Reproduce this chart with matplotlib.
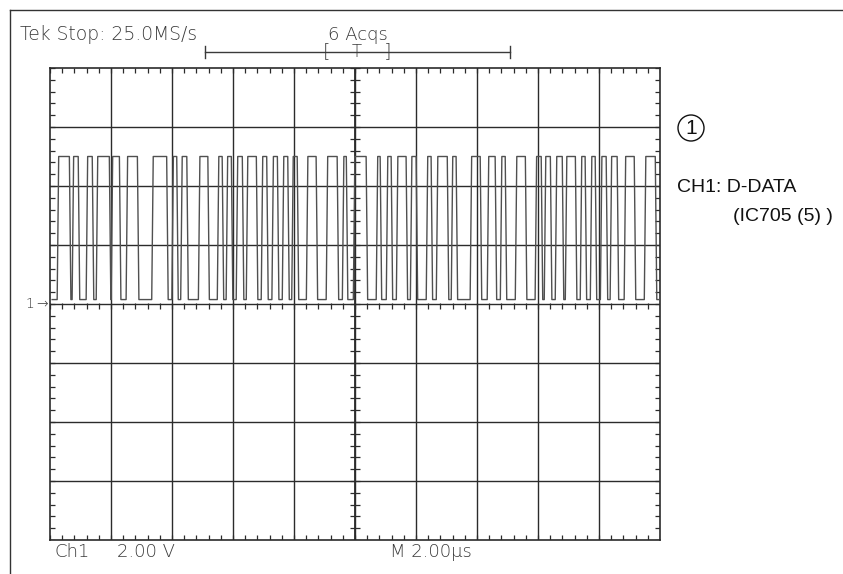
import numpy as np
import matplotlib
matplotlib.use('Agg')
import matplotlib.pyplot as plt
from matplotlib.patches import Circle

# scope settings: 2 us/div, 2 V/div, 10 x 8 divisions
us_per_div = 2.0
v_per_div = 2.0
n_xdiv = 10
n_ydiv = 8

# high intervals of CH1 (D-DATA), in us from the left edge of the screen
pulse_start = [0.26, 0.75, 1.21, 1.54, 2.03, 2.52, 3.36, 4.02, 4.31, 4.89,
               5.51, 5.80, 6.13, 6.46, 6.95, 7.30, 7.64, 7.95, 8.43, 9.08,
               9.61, 9.97, 10.72, 11.05, 11.38, 11.84, 12.36, 12.69, 13.18, 13.80,
               14.36, 14.79, 15.28, 15.93, 16.23, 16.59, 16.92, 17.41, 17.74, 18.07,
               18.39, 18.85, 19.51]
pulse_end = [0.66, 0.95, 1.41, 1.97, 2.30, 2.89, 3.85, 4.18, 4.51, 5.20,
             5.67, 5.97, 6.33, 6.79, 7.13, 7.48, 7.82, 8.13, 8.75, 9.44,
             9.74, 10.39, 10.85, 11.21, 11.70, 12.03, 12.52, 13.05, 13.34, 14.13,
             14.62, 14.95, 15.61, 16.13, 16.43, 16.82, 17.25, 17.57, 17.90, 18.26,
             18.62, 19.18, 19.87]
v_high = 5.0
v_low = 0.15
t_first = 0.07
t_last = 20.0

W, H = 843, 574
fig = plt.figure(figsize=(W / 100, H / 100), dpi=100)
fig.patch.set_facecolor('white')


def fx(px):
    return px / W


def fy(py):
    return 1 - py / H


# graticule box in pixels
gx0, gx1, gy0, gy1 = 50, 660, 68, 540
ax = fig.add_axes([fx(gx0), fy(gy1), (gx1 - gx0) / W, (gy1 - gy0) / H])
xmax = n_xdiv * us_per_div
ymax = n_ydiv / 2 * v_per_div
ax.set_xlim(0, xmax)
ax.set_ylim(-ymax, ymax)
ax.set_facecolor('white')

grid_col = '#2b2b2b'
for i in range(1, n_xdiv):
    ax.axvline(i * us_per_div, color=grid_col, lw=1.0, zorder=1)
for j in range(1, n_ydiv):
    ax.axhline(-ymax + j * v_per_div, color=grid_col, lw=1.0, zorder=1)

# minor ticks on border (inward) and on the centre cross
px_x = xmax / (gx1 - gx0)
px_y = 2 * ymax / (gy1 - gy0)
minor_x = np.arange(0, xmax + 1e-9, us_per_div / 5)
minor_y = np.arange(-ymax, ymax + 1e-9, v_per_div / 5)
tl = 5
ax.vlines(minor_x, ymax - tl * px_y, ymax, color=grid_col, lw=0.9)
ax.vlines(minor_x, -ymax, -ymax + tl * px_y, color=grid_col, lw=0.9)
ax.hlines(minor_y, 0, tl * px_x, color=grid_col, lw=0.9)
ax.hlines(minor_y, xmax - tl * px_x, xmax, color=grid_col, lw=0.9)
xc = xmax / 2
ax.hlines(minor_y, xc - tl * px_x, xc + tl * px_x, color=grid_col, lw=0.9)
ax.vlines(minor_x, -tl * px_y, tl * px_y * 0.2, color=grid_col, lw=0.9)
ax.axvline(xc, color=grid_col, lw=1.3, zorder=1)

ax.set_xticks([])
ax.set_yticks([])
for s in ax.spines.values():
    s.set_color(grid_col)
    s.set_linewidth(1.2)

# build the trace
rise = 0.05
tt = [t_first]
vv = [v_low]
for a, b in zip(pulse_start, pulse_end):
    tt += [a - rise / 2, a + rise / 2, b - rise / 2, b + rise / 2]
    vv += [v_low, v_high, v_high, v_low]
tt.append(t_last)
vv.append(v_low)
ax.plot(tt, vv, color='#505050', lw=1.0, zorder=3, clip_on=True)

# outer frame of the screenshot
fig.add_artist(plt.Line2D([fx(10), 1], [fy(10), fy(10)], color='#333333', lw=1.0))
fig.add_artist(plt.Line2D([fx(10), fx(10)], [0, fy(10)], color='#333333', lw=1.0))

scope_font = dict(family='DejaVu Sans', color='#3a3a3a', fontweight='light')
fig.text(fx(20), fy(40), 'Tek Stop: 25.0MS/s', fontsize=13.5, va='baseline', **scope_font)
fig.text(fx(328), fy(40), '6 Acqs', fontsize=13, va='baseline', **scope_font)

# record length bar with trigger bracket
bar_y = fy(52)
fig.add_artist(plt.Line2D([fx(205), fx(510)], [bar_y, bar_y], color='#3a3a3a', lw=1.0))
for xb in (205, 510):
    fig.add_artist(plt.Line2D([fx(xb), fx(xb)], [bar_y - 6 / H, bar_y + 6 / H], color='#3a3a3a', lw=1.0))
fig.text(fx(327), bar_y, '[', fontsize=14, va='center', ha='center', **scope_font)
fig.text(fx(388), bar_y, ']', fontsize=14, va='center', ha='center', **scope_font)
fig.text(fx(357), bar_y, 'T', fontsize=12, va='center', ha='center', **scope_font)

# channel ground marker
fig.text(fx(30), fy(304), '1', fontsize=10, va='center', ha='center', **scope_font)
fig.text(fx(42), fy(304), '\u2192', fontsize=10, va='center', ha='center', **scope_font)

# bottom readouts
fig.text(fx(54), fy(557), 'Ch1', fontsize=13, va='baseline', **scope_font)
fig.text(fx(117), fy(557), '2.00 V', fontsize=13, va='baseline', **scope_font)
fig.text(fx(390), fy(557), 'M 2.00\u00b5s', fontsize=13, va='baseline', **scope_font)

# annotation on the right
ann_font = dict(family='Liberation Sans', color='#111111')
fig.add_artist(Circle((6.91, (H - 128) / 100), 0.13, transform=fig.dpi_scale_trans,
                      fill=False, ec='#111111', lw=1.0))
fig.text(fx(691), fy(129), '1', fontsize=15, ha='center', va='center', **ann_font)
fig.text(fx(677), fy(192), 'CH1: D-DATA', fontsize=14, va='baseline', **ann_font)
fig.text(fx(733), fy(221), '(IC705 (5) )', fontsize=14, va='baseline', **ann_font)

fig.savefig('out.png', dpi=100)
